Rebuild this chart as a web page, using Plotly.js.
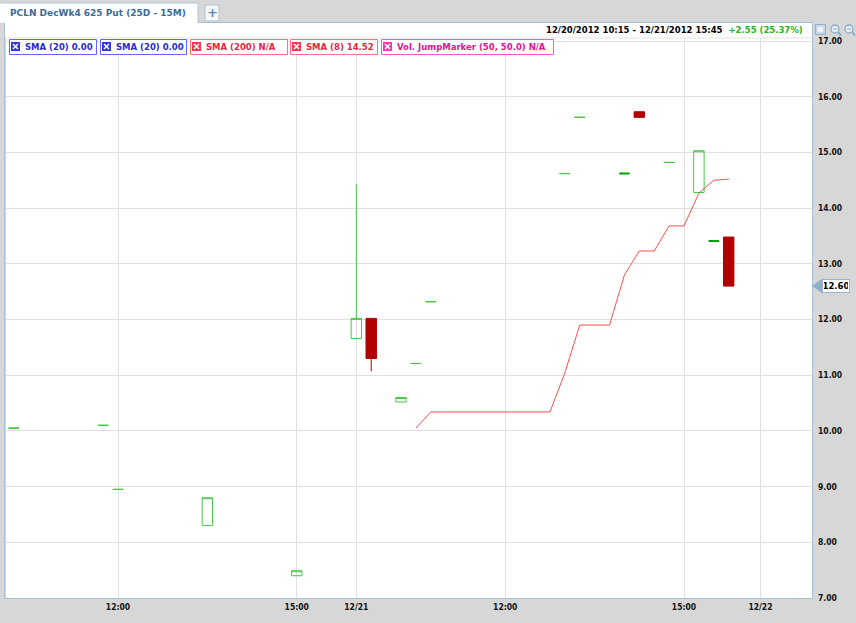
<!DOCTYPE html>
<html><head><meta charset="utf-8">
<script src="https://cdn.plot.ly/plotly-3.0.1.min.js"></script>
<style>html,body{margin:0;padding:0;background:#d7d7d7;overflow:hidden}#chart{width:856px;height:623px}</style>
</head><body><div id="chart"></div>
<script>
// ---------------- data ----------------
const sessionDays = ['12/20', '12/21', '12/22'];
const barTimes = ["12/20 10:15","12/20 11:45","12/20 12:00","12/20 13:30","12/20 15:00",
  "12/21 09:30","12/21 09:45","12/21 10:15","12/21 10:30","12/21 10:45","12/21 13:00",
  "12/21 13:15","12/21 14:00","12/21 14:15","12/21 14:45","12/21 15:15","12/21 15:30","12/21 15:45"];
const openVals  = [10.05,10.10,8.95,8.30,7.40,11.66,12.02,10.52,11.21,12.32,14.62,15.63,14.62,15.73,14.82,14.28,13.41,13.48];
const highVals  = [10.05,10.10,8.95,8.80,7.49,14.43,12.02,10.60,11.21,12.32,14.62,15.63,14.62,15.73,14.82,15.03,13.41,13.48];
const lowVals   = [10.05,10.10,8.95,8.30,7.40,11.66,11.07,10.52,11.21,12.32,14.62,15.63,14.62,15.63,14.82,14.28,13.41,12.60];
const closeVals = [10.05,10.10,8.95,8.80,7.49,12.02,11.30,10.60,11.21,12.32,14.62,15.63,14.62,15.63,14.82,15.03,13.41,12.60];
const smaTimes = ["12/21 10:30","12/21 10:45","12/21 11:00","12/21 11:15","12/21 11:30","12/21 11:45",
  "12/21 12:00","12/21 12:15","12/21 12:30","12/21 12:45","12/21 13:00","12/21 13:15","12/21 13:30",
  "12/21 13:45","12/21 14:00","12/21 14:15","12/21 14:30","12/21 14:45","12/21 15:00","12/21 15:15",
  "12/21 15:30","12/21 15:45"];
const smaVals = [10.05,10.34,10.34,10.34,10.34,10.34,10.34,10.34,10.34,10.34,11.04,11.90,11.90,
  11.90,12.80,13.23,13.23,13.68,13.68,14.27,14.50,14.52];
const xTickLabels = ['12:00','15:00','12/21','12:00','15:00','12/22'];
const xTickVals = [150, 330, 390, 540, 720, 797];   // session minutes
const darkDojiTimes = ["12/21 14:00","12/21 15:30"];
const indicatorLabels = ['SMA (20) 0.00','SMA (20) 0.00','SMA (200) N/A','SMA (8) ' + smaVals[smaVals.length-1].toFixed(2),'Vol. JumpMarker (50, 50.0) N/A'];

// ---------------- helpers ----------------
function sessMin(t){const [d,hm]=t.split(' ');const [h,m]=hm.split(':').map(Number);return sessionDays.indexOf(d)*390 + h*60 + m - 570;}
const PL=6, PR=812, PT=38, PB=598;
const px = v => (v-PL)/(PR-PL);
const py = v => (PB-v)/(PB-PT);
const FONT = 'DejaVu Sans, Verdana, sans-serif';
const TICKFONT = 'DejaVu Sans Condensed, Liberation Sans Narrow, DejaVu Sans, sans-serif';

const idxRed=[], idxDark=[], idxLight=[];
barTimes.forEach((t,i)=>{ if(closeVals[i]<openVals[i]) idxRed.push(i); else if(darkDojiTimes.includes(t)) idxDark.push(i); else idxLight.push(i); });
function candle(idx, color, fill, lw){
  const st={line:{color:color,width:lw},fillcolor:fill};
  return {type:'candlestick', x:idx.map(i=>sessMin(barTimes[i])), open:idx.map(i=>openVals[i]),
    high:idx.map(i=>highVals[i]), low:idx.map(i=>lowVals[i]), close:idx.map(i=>closeVals[i]),
    increasing:st, decreasing:st, whiskerwidth:0, hoverinfo:'skip', showlegend:false};
}
const traces = [
  candle(idxLight,'#44c844','rgba(255,255,255,0)',1),
  candle(idxDark,'#00a000','rgba(255,255,255,0)',2),
  candle(idxRed,'#b00000','#b00000',1),
  {type:'scatter', mode:'lines', x:smaTimes.map(sessMin), y:smaVals, line:{color:'#ff4d4d',width:1}, hoverinfo:'skip', showlegend:false}
];

// ---------------- decorations ----------------
const shapes=[], annotations=[];
function rect(x0,y0,x1,y1,fill,line,lw,layer){shapes.push({type:'rect',xref:'paper',yref:'paper',x0:px(x0),x1:px(x1),y0:py(y0),y1:py(y1),fillcolor:fill||'rgba(0,0,0,0)',line:{color:line||'rgba(0,0,0,0)',width:lw||0},layer:layer||'above'});}
function seg(x0,y0,x1,y1,color,lw,layer){shapes.push({type:'line',xref:'paper',yref:'paper',x0:px(x0),x1:px(x1),y0:py(y0),y1:py(y1),line:{color:color,width:lw||1},layer:layer||'above'});}
function txt(x,y,text,opts){annotations.push(Object.assign({xref:'paper',yref:'paper',x:px(x),y:py(y),text:text,showarrow:false,xanchor:'left',yanchor:'middle',font:{family:FONT,size:8.5,color:'#000',weight:'bold'}},opts||{}));}

// panel background (header band)
rect(4,22,812,38,'#ffffff',null,0,'below');
seg(4,38,812,38,'#e4e4e4',1,'below');
// tab strip
rect(0,3,198,23,'#ffffff',null,0,'above');
seg(0.5,3,198,3,'#b3c4d4',1); seg(198,3,198,22.5,'#b3c4d4',1);
seg(198,22.5,812.5,22.5,'#a9bfd2',1);
seg(4.5,22.5,4.5,598.5,'#a9bfd2',1);
seg(812.5,22.5,812.5,598.5,'#a9bfd2',1);
seg(4.5,598.5,812.5,598.5,'#a9bfd2',1);
txt(8,12.5,'PCLN DecWk4 625 Put (25D - 15M)',{font:{family:FONT,size:9,color:'#3a6c97',weight:'bold'}});
rect(205,5,219,21,'#f6f6f6','#b3c4d4',1);
txt(212,13,'+',{xanchor:'center',font:{family:FONT,size:13,color:'#5b8bb2',weight:'bold'}});

// header text
const chg = closeVals[closeVals.length-1]-openVals[0];
const pct = chg/openVals[0]*100;
txt(805,30,'12/20/2012 '+barTimes[0].split(' ')[1]+' - 12/21/2012 '+barTimes[barTimes.length-1].split(' ')[1]+
  '  <span style="color:#22b522">+'+chg.toFixed(2)+' ('+pct.toFixed(2)+'%)</span>',{xanchor:'right'});

// icons top right
rect(815.5,24.5,825.5,34.5,'#c9d9e7','#8aaecb',1);
rect(818,27,823,32,'#eef3f8',null,0);
[835,849].forEach(cx=>{
  shapes.push({type:'circle',xref:'paper',yref:'paper',x0:px(cx-4),x1:px(cx+4),y0:py(25),y1:py(33),fillcolor:'#e6eef5',line:{color:'#8aaecb',width:1.3},layer:'above'});
  seg(cx+3,32,cx+6,35.5,'#8aaecb',2);
  seg(cx-2,29,cx+2,29,'#8aaecb',1);
});

// indicator legend boxes
const boxes=[[9,96],[100,186],[190,287],[290,377],[381,553]];
const cols=[['#2a2ad2','#6464ff','#3434e4'],['#2a2ad2','#6464ff','#3434e4'],['#f01e40','#ff7088','#ff3352'],['#f01e40','#ff7088','#ff3352'],['#e6109a','#ff55cc','#ff33b5']];
boxes.forEach((b,i)=>{
  rect(b[0]+0.5,39.5,b[1]+0.5,54.5,'#ffffff',cols[i][1],1);
  rect(b[0]+2,42,b[0]+11,51,cols[i][2],null,0);
  seg(b[0]+4,44,b[0]+9,49,'#ffffff',1.5);
  seg(b[0]+4,49,b[0]+9,44,'#ffffff',1.5);
  txt(b[0]+14,47,indicatorLabels[i],{font:{family:FONT,size:8.5,color:cols[i][0],weight:'bold'}});
});

// last price marker
const last = closeVals[closeVals.length-1];
shapes.push({type:'path',xref:'paper',yref:'y',path:'M '+px(812)+','+last+' L '+px(822)+','+(last+0.13)+' L '+px(822)+','+(last-0.13)+' Z',fillcolor:'#8fb0cc',line:{width:0},layer:'above'});
annotations.push({xref:'paper',yref:'y',x:px(836),y:last,text:last.toFixed(2),showarrow:false,xanchor:'center',yanchor:'middle',
  bgcolor:'#ffffff',bordercolor:'#9ab6cc',borderwidth:1,borderpad:1,width:24,
  font:{family:FONT,size:8.5,color:'#000',weight:'bold'}});

const layout = {
  width:856, height:623,
  margin:{l:PL, r:856-PR, t:PT, b:623-PB, pad:0},
  paper_bgcolor:'#d7d7d7', plot_bgcolor:'#ffffff',
  showlegend:false, boxmode:'overlay', boxgap:0.3, boxgroupgap:0,
  xaxis:{type:'linear', range:[37.2,848.9], tickvals:xTickVals, ticktext:xTickLabels, showgrid:true,
    gridcolor:'#e0e0e0', gridwidth:1, zeroline:false, showline:false, ticks:'', rangeslider:{visible:false},
    tickfont:{family:TICKFONT, size:8.5, color:'#111', weight:'bold'}, ticklabelstandoff:2, fixedrange:true},
  yaxis:{side:'right', range:[7,17.054], tick0:7, dtick:1, tickformat:'.2f', showgrid:true, gridcolor:'#e0e0e0',
    zeroline:false, showline:false, ticks:'', tickfont:{family:TICKFONT, size:8.5, color:'#111', weight:'bold'},
    ticklabelstandoff:5, ticklabelshift:-1.5, fixedrange:true},
  shapes:shapes, annotations:annotations
};
Plotly.newPlot('chart', traces, layout, {staticPlot:true, displayModeBar:false});
</script></body></html>
